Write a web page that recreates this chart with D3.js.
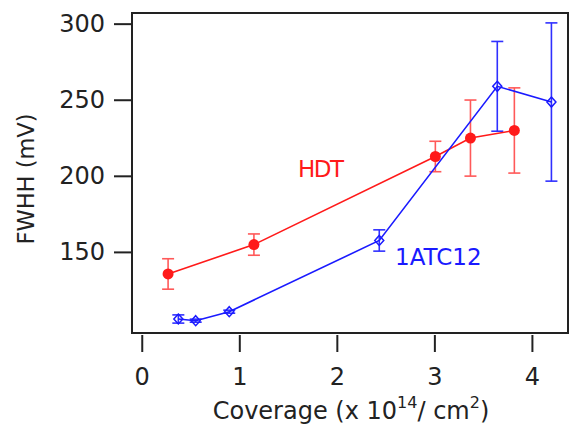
<!DOCTYPE html>
<html><head><meta charset="utf-8">
<script src="https://cdn.jsdelivr.net/npm/d3@7"></script>
<style>body{margin:0;background:#fff}text{font-family:"DejaVu Sans",sans-serif;}</style>
</head><body>
<svg id="c" width="570" height="425"></svg>
<script>
const hdtX = [0.27, 1.15, 3.01, 3.37, 3.82];
const hdtY = [135.5, 154.8, 212.7, 224.8, 229.8];
const hdtErr = [10, 7, 10, 25, 28];
const atcX = [0.375, 0.553, 0.897, 2.435, 3.645, 4.20];
const atcY = [105.9, 104.8, 110.7, 157.5, 258.8, 248.5];
const atcErr = [2.7, 1, 1, 7, 29.5, 52];
const xTicks = [0, 1, 2, 3, 4];
const yTicks = [150, 200, 250, 300];

const svg = d3.select("#c");
const L = 132, R = 568, T = 13, B = 333;
const x = d3.scaleLinear().domain([-0.1, 4.37]).range([L, R]);
const y = d3.scaleLinear().domain([96.7, 307]).range([B, T]);
const ink = "#222";

// frame
svg.append("rect").attr("x", L).attr("y", T).attr("width", R - L).attr("height", B - T)
  .attr("fill", "none").attr("stroke", ink).attr("stroke-width", 2);

// y axis
const ya = svg.append("g").attr("transform", `translate(${L},0)`)
  .call(d3.axisLeft(y).tickValues(yTicks).tickSize(18).tickPadding(9).tickFormat(d3.format("d")));
ya.select(".domain").remove();
ya.selectAll("line").attr("stroke", ink).attr("stroke-width", 2);
ya.selectAll("text").attr("font-size", 24).attr("fill", ink).attr("font-family", "DejaVu Sans");

// x axis (offset)
const xa = svg.append("g").attr("transform", `translate(0,${B + 2})`)
  .call(d3.axisBottom(x).tickValues(xTicks).tickSize(17).tickPadding(16).tickFormat(d3.format("d")));
xa.select(".domain").remove();
xa.selectAll("line").attr("stroke", ink).attr("stroke-width", 2);
xa.selectAll("text").attr("font-size", 24).attr("fill", ink).attr("font-family", "DejaVu Sans");

// axis titles
svg.append("text").attr("transform", `translate(34,179) rotate(-90)`).attr("text-anchor", "middle")
  .attr("font-size", 22.5).attr("fill", ink).text("FWHH (mV)");
const xt = svg.append("text").attr("x", 351).attr("y", 419).attr("text-anchor", "middle")
  .attr("font-size", 24).attr("fill", ink);
xt.append("tspan").text("Coverage (x 10");
xt.append("tspan").attr("dy", -11).attr("font-size", 16).text("14");
xt.append("tspan").attr("dy", 11).text("/ cm");
xt.append("tspan").attr("dy", -11).attr("font-size", 16).text("2");
xt.append("tspan").attr("dy", 11).text(")");

const hdt = hdtX.map((v, i) => ({x: v, y: hdtY[i], e: hdtErr[i]}));
const atc = atcX.map((v, i) => ({x: v, y: atcY[i], e: atcErr[i]}));
const line = d3.line().x(d => x(d.x)).y(d => y(d.y));

function errbars(data, color, op) {
  const g = svg.append("g").attr("stroke", color).attr("stroke-width", 1.6).attr("opacity", op);
  data.forEach(d => {
    g.append("line").attr("x1", x(d.x)).attr("x2", x(d.x)).attr("y1", y(d.y - d.e)).attr("y2", y(d.y + d.e));
    [d.y - d.e, d.y + d.e].forEach(v => g.append("line").attr("x1", x(d.x) - 6).attr("x2", x(d.x) + 6)
      .attr("y1", y(v)).attr("y2", y(v)));
  });
}

const red = "#ff1a1a", blue = "#1a1aff";
errbars(hdt, red, 0.72);
errbars(atc, blue, 0.9);
svg.append("path").datum(hdt).attr("d", line).attr("fill", "none").attr("stroke", red).attr("stroke-width", 1.6);
svg.append("path").datum(atc).attr("d", line).attr("fill", "none").attr("stroke", blue).attr("stroke-width", 1.6);
svg.selectAll(".hp").data(hdt).join("circle").attr("cx", d => x(d.x)).attr("cy", d => y(d.y)).attr("r", 5.5).attr("fill", red);
svg.selectAll(".ap").data(atc).join("path")
  .attr("d", d => `M${x(d.x)},${y(d.y) - 5}L${x(d.x) + 4.5},${y(d.y)}L${x(d.x)},${y(d.y) + 5}L${x(d.x) - 4.5},${y(d.y)}Z`)
  .attr("fill", "none").attr("stroke", blue).attr("stroke-width", 1.5);

svg.append("text").attr("x", 298).attr("y", 177).attr("font-size", 23).attr("textLength", 46).attr("fill", red).text("HDT");
svg.append("text").attr("x", 395).attr("y", 265).attr("font-size", 23).attr("fill", blue).text("1ATC12");
</script>
</body></html>
